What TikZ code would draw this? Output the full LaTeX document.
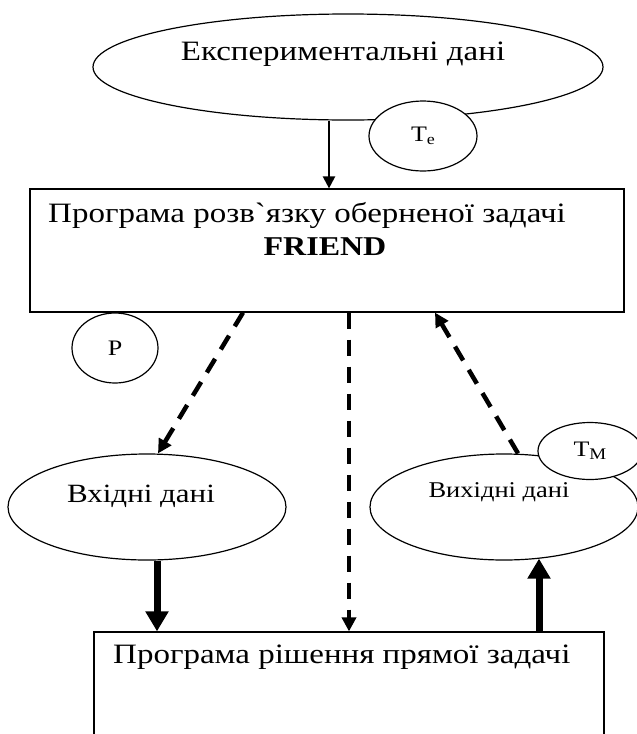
\documentclass[tikz,border=0pt]{standalone}
\usepackage{graphicx}
\usepackage{fontspec}
\setmainfont{Liberation Serif}
\newfontfamily\rawserif{Liberation Serif}
\newcommand\sqz[1]{\scalebox{1}[0.85]{#1}}
\usetikzlibrary{shapes.geometric,arrows.meta}
\begin{document}
\begin{tikzpicture}[x=1pt,y=-1pt,
  oval/.style={draw,ellipse,line width=1.2pt,inner sep=0pt},
  boxnode/.style={draw,rectangle,line width=1.2pt,inner sep=0pt},
  txt/.style={inner sep=0pt,anchor=base,font=\fontsize{33}{38}\selectfont},
  txtw/.style={inner sep=0pt,anchor=base west,font=\fontsize{33}{38}\selectfont},
  small/.style={font=\fontsize{26}{30}\selectfont},
  dasharrow/.style={line width=4.5pt,dash pattern=on 16pt off 11pt,-{Triangle[length=14pt,width=14pt]}},
  thickarrow/.style={line width=7pt,-{Triangle[length=20pt,width=22pt]}},
  thinarrow/.style={line width=2.2pt,-{Triangle[length=12pt,width=12pt]}}]
\useasboundingbox (0,0) rectangle (637,734);
\fill[white] (0,0) rectangle (637,734);
\clip (0,0) rectangle (637,734);

% nodes
\node[oval,minimum width=510pt,minimum height=106pt] (exp) at (348,67) {};
\node[txt] (exptxt) at (343,60) {\sqz{Експериментальні дані}};
\node[oval,fill=white,minimum width=108pt,minimum height=70pt,small] (te) at (423,136) {\sqz{T\raisebox{-4pt}{\fontsize{18}{20}\selectfont e}}};

\node[boxnode,minimum width=594pt,minimum height=123pt] (box1) at (327,250.5) {};
\node[txtw] (box1a) at (48,222) {\sqz{Програма розв{\rawserif`}язку оберненої задачі}};
\node[txt,font=\fontsize{32}{36}\selectfont\bfseries] (box1b) at (325,255) {\sqz{FRIEND}};

\node[oval,minimum width=86pt,minimum height=70pt,small] (p) at (115,348) {\sqz{P}};

\node[oval,minimum width=278pt,minimum height=106pt] (vin) at (147,507) {};
\node[txt,font=\fontsize{31}{35}\selectfont] (vintxt) at (141,502) {\sqz{Вхідні дані}};

\node[oval,minimum width=268pt,minimum height=106pt] (vout) at (504,507) {};
\node[txt,font=\fontsize{26.5}{31}\selectfont] (vouttxt) at (499,497) {\sqz{Вихідні дані}};
\node[oval,fill=white,minimum width=104pt,minimum height=57pt,small] (tm) at (590,451) {\sqz{T\raisebox{-4pt}{\fontsize{19}{21}\selectfont M}}};

\node[boxnode,minimum width=510pt,minimum height=148pt] (box2) at (349,706) {};
\node[txtw] (box2txt) at (113,663) {\sqz{Програма рішення прямої задачі}};

% connectors
\draw[thinarrow] ([xshift=-19pt]exp.south) -- ([xshift=-19pt]exp.south |- box1.north);
\draw[dasharrow] ([xshift=-84pt]box1.south) -- ([xshift=11pt]vin.north);
\draw[dasharrow] (box1.south -| box2.north) -- (box2.north);
\draw[dasharrow] ([xshift=14pt]vout.north) -- ([xshift=108pt]box1.south);
\draw[thickarrow] ([xshift=10pt]vin.south) -- ([xshift=10pt]vin.south |- box2.north);
\draw[thickarrow] ([xshift=35pt]vout.south |- box2.north) -- ([xshift=35pt,yshift=2pt]vout.south);
\end{tikzpicture}
\end{document}
